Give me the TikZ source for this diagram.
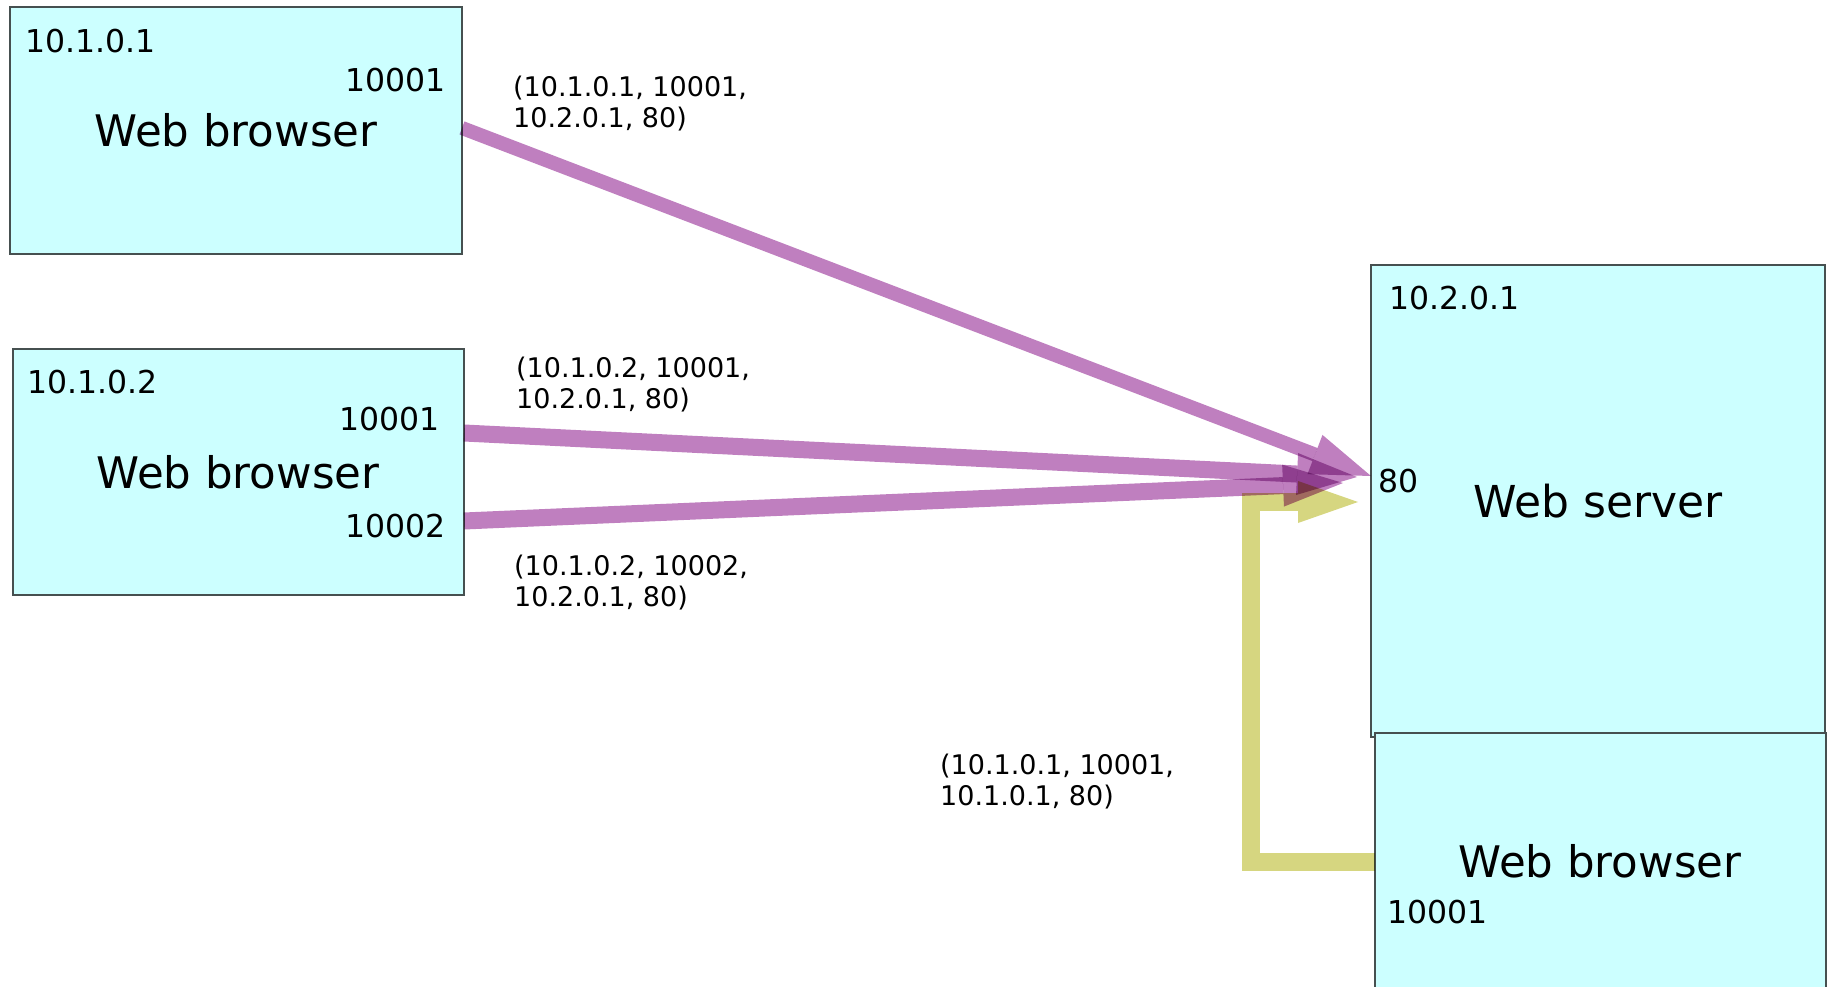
\documentclass[tikz,border=0pt]{standalone}
\usepackage{fontspec}
\setmainfont{DejaVu Sans}
\usetikzlibrary{arrows.meta,calc}
\definecolor{hostfill}{RGB}{204,255,255}
\definecolor{hostline}{RGB}{70,80,80}
\definecolor{flowpink}{RGB}{191,127,191}
\definecolor{flowyellow}{RGB}{214,214,128}
\tikzset{
  host/.style={draw=hostline, line width=1.2pt, fill=hostfill, inner sep=0pt, outer sep=0pt, anchor=north west},
  hosttitle/.style={font=\fontsize{43.5}{50}\selectfont, inner sep=0pt, anchor=base},
  addr/.style={font=\fontsize{31.5}{38}\selectfont, inner sep=0pt},
  tuple/.style={font=\fontsize{27}{31}\selectfont, inner sep=0pt, align=left, anchor=north west},
  flow/.style={line width=17pt, line join=miter, -{Triangle[length=60pt,width=42pt,line width=0pt]}},
}
\begin{document}
\begin{tikzpicture}[x=1pt,y=-1pt]
\useasboundingbox (0,0) rectangle (1829,987);
\clip (0,0) rectangle (1829,987);

% hosts
\node[host, minimum width=452pt, minimum height=247pt] (b1) at (10,7) {};
\node[host, minimum width=451pt, minimum height=246pt] (b2) at (13,349) {};
\node[host, minimum width=454pt, minimum height=472pt] (srv) at (1371,265) {};
\node[host, minimum width=451pt, minimum height=300pt] (bb) at (1375,733) {};

% first client
\node[addr, anchor=base west] (b1ip) at (25,53) {10.1.0.1};
\node[addr, anchor=base east] (b1port) at (446,92) {10001};
\node[hosttitle] (b1name) at (236,147) {Web browser};

% second client
\node[addr, anchor=base west] (b2ip) at (27,393) {10.1.0.2};
\node[addr, anchor=base east] (b2porta) at (440,430) {10001};
\node[hosttitle] (b2name) at (238,488) {Web browser};
\node[addr, anchor=base east] (b2portb) at (446,537) {10002};

% server
\node[addr, anchor=base west] (srvip) at (1389,309) {10.2.0.1};
\node[addr, anchor=base west] (srvport) at (1378,492) {80};
\node[hosttitle, font=\fontsize{44}{50}\selectfont] (srvname) at (1598,517) {Web server};

% local client on the server host
\node[hosttitle] (bbname) at (1600,877) {Web browser};
\node[addr, anchor=base west] (bbport) at (1387,923) {10001};

% connection tuples
\node[tuple] (t1) at (513,75.5) {(10.1.0.1, 10001,\\10.2.0.1, 80)};
\node[tuple] (t2) at (516,356.5) {(10.1.0.2, 10001,\\10.2.0.1, 80)};
\node[tuple] (t3) at (514,554.5) {(10.1.0.2, 10002,\\10.2.0.1, 80)};
\node[tuple] (t4) at (940,753.5) {(10.1.0.1, 10001,\\10.1.0.1, 80)};

% end points of the flows
\coordinate (b1out) at ($(b1.north east)+(0,121)$);
\coordinate (b2outa) at ($(b2.north east)+(0,84)$);
\coordinate (b2outb) at ($(b2.north east)+(0,172)$);
\coordinate (bbout) at ($(bb.north west)+(0,129)$);
\coordinate (srvin) at ($(srv.north west)+(0,211)$);
\coordinate (srvina) at ($(srv.north west)+(-14,212)$);
\coordinate (srvinb) at ($(srv.north west)+(-28,218)$);
\coordinate (srvinc) at ($(srv.north west)+(-13,237)$);
\coordinate (ybend) at (1251,502);

% flows
\begin{scope}[blend mode=multiply]
  \draw[flow, flowpink, line width=14pt] (b1out) -- (srvin);
  \draw[flow, flowpink] (b2outa) -- (srvina);
  \draw[flow, flowpink] (b2outb) -- (srvinb);
  \draw[flow, flowyellow, line width=18pt] (bbout) -| (ybend) -- (srvinc);
\end{scope}
\end{tikzpicture}
\end{document}
